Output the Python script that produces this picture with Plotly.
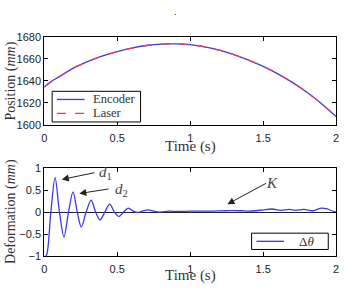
import plotly.graph_objects as go

# ---------------- data ----------------
t_pos = [0.0, 0.05, 0.1, 0.2, 0.3, 0.4, 0.5, 0.6, 0.7, 0.8, 0.9, 1.0,
         1.1, 1.2, 1.3, 1.4, 1.5, 1.6, 1.7, 1.8, 1.9, 2.0]
encoder = [1634.5, 1639.5, 1643.5, 1651.5, 1657.5, 1662.5, 1666.5, 1669.7,
           1672.0, 1673.3, 1673.5, 1672.7, 1670.8, 1667.8, 1663.7, 1658.7,
           1653.0, 1646.3, 1638.5, 1629.5, 1619.2, 1607.5]
laser = [1634.0, 1639.3, 1643.4, 1651.5, 1657.5, 1662.5, 1666.5, 1669.7,
         1672.0, 1673.3, 1673.5, 1672.7, 1670.8, 1667.8, 1663.7, 1658.7,
         1653.0, 1646.3, 1638.5, 1629.5, 1619.2, 1607.3]

t_def = [0.0, 0.015, 0.045, 0.074, 0.104, 0.135, 0.166, 0.197, 0.226, 0.254,
         0.287, 0.321, 0.352, 0.382, 0.415, 0.449, 0.48, 0.512, 0.543, 0.575,
         0.61, 0.64, 0.67, 0.71, 0.75, 0.79, 0.85, 0.9, 1.0, 1.1, 1.2, 1.25,
         1.3, 1.35, 1.4, 1.45, 1.5, 1.56, 1.62, 1.68, 1.72, 1.78, 1.84, 1.9,
         1.94, 1.97, 2.0]
deform = [-1.02, -0.98, 0.0, 0.78, 0.0, -0.565, 0.0, 0.456, 0.0, -0.34,
          0.0, 0.27, 0.0, -0.18, 0.0, 0.18, 0.0, -0.10, 0.0, 0.09,
          0.02, -0.01, 0.02, 0.05, 0.02, 0.0, 0.02, 0.015, 0.02, 0.02, 0.025, 0.03,
          0.035, 0.03, 0.02, 0.03, 0.05, 0.07, 0.04, 0.06, 0.04, 0.06, 0.03, 0.09,
          0.07, 0.03, 0.0]

x_ticks = [0, 0.5, 1, 1.5, 2]
x_ticklabels = ["0", "0.5", "1", "1.5", "2"]
pos_ticks = [1600, 1620, 1640, 1660, 1680]
def_ticks = [-1, -0.5, 0, 0.5, 1]
def_ticklabels = ["\u22121", "\u22120.5", "0", "0.5", "1"]

# annotations: (label, text_x, text_y, tail_x, tail_y, head_x, head_y)
arrows = [
    ("<i>d</i><sub>1</sub>", 0.36, 0.88, 0.355, 0.90, 0.12, 0.74),
    ("<i>d</i><sub>2</sub>", 0.47, 0.51, 0.45, 0.53, 0.24, 0.42),
    ("<i>K</i>", 1.56, 0.65, 1.53, 0.67, 1.255, 0.18),
]

W, H = 346, 289
serif = "Liberation Serif"
sans = "Liberation Sans"
blue = "#3a3ae6"
red = "#e0405a"
txt = "#333"

fig = go.Figure()
fig.add_trace(go.Scatter(x=t_pos, y=encoder, mode="lines", name="Encoder",
                         line=dict(color=blue, width=1.3, shape="spline"),
                         xaxis="x", yaxis="y", showlegend=False))
fig.add_trace(go.Scatter(x=t_pos, y=laser, mode="lines", name="Laser",
                         line=dict(color=red, width=1.3, dash="dash", shape="spline"),
                         xaxis="x", yaxis="y", showlegend=False))
fig.add_trace(go.Scatter(x=t_def, y=deform, mode="lines", name="\u0394\u03b8",
                         line=dict(color=blue, width=1.3, shape="spline", smoothing=0.9),
                         xaxis="x2", yaxis="y2", showlegend=False))

xd = [42 / W, 339 / W]
top_dom = [1 - 124 / H, 1 - 32 / H]
bot_dom = [1 - 261 / H, 1 - 169 / H]

axis_common = dict(showline=True, linecolor="black", linewidth=1, mirror="ticks",
                   ticks="inside", ticklen=4, tickcolor="black", showgrid=False,
                   tickfont=dict(family=sans, size=11, color="#222"))

fig.update_layout(
    width=W, height=H, margin=dict(l=0, r=0, t=0, b=0),
    paper_bgcolor="white", plot_bgcolor="white", showlegend=False,
    xaxis=dict(domain=xd, range=[0, 2], anchor="y", tickvals=x_ticks,
               ticktext=x_ticklabels, zeroline=False, ticklabelstandoff=3,
               **axis_common),
    yaxis=dict(domain=top_dom, range=[1600, 1680], anchor="x", tickvals=pos_ticks,
               zeroline=False, **axis_common),
    xaxis2=dict(domain=xd, range=[0, 2], anchor="y2", tickvals=x_ticks,
                ticktext=x_ticklabels, zeroline=False, ticklabelstandoff=3,
                **axis_common),
    yaxis2=dict(domain=bot_dom, range=[-1, 1], anchor="x2", tickvals=def_ticks,
                ticktext=def_ticklabels, zeroline=True, zerolinecolor="#222",
                zerolinewidth=1, **axis_common),
)

def px(x, y):
    return x / W, 1 - y / H

shapes = []
annos = []

# ---- legend boxes (drawn in paper space) ----
def legend_box(x0, y0, x1, y1):
    a, b = px(x0, y0)
    c, d = px(x1, y1)
    shapes.append(dict(type="rect", xref="paper", yref="paper", x0=a, y0=d, x1=c, y1=b,
                       line=dict(color="black", width=1), fillcolor="white", layer="above"))

def legend_entry(x0, x1, y, color, dash, label, tx, size):
    a, b = px(x0, y)
    c, _ = px(x1, y)
    shapes.append(dict(type="line", xref="paper", yref="paper", x0=a, y0=b, x1=c, y1=b,
                       line=dict(color=color, width=1.3, dash=dash), layer="above"))
    tpx, tpy = px(tx, y)
    annos.append(dict(text=label, x=tpx, y=tpy, xref="paper", yref="paper",
                      showarrow=False, xanchor="left", yanchor="middle",
                      font=dict(family=serif, size=size, color=txt)))

legend_box(50, 89, 140, 121)
legend_entry(55, 83, 97.5, blue, "solid", fig.data[0].name, 90, 12.5)
legend_entry(55, 83, 112, red, "dash", fig.data[1].name, 90, 12.5)
legend_box(253, 237, 331, 254)
legend_entry(258, 286, 245.5, blue, "solid", "\u0394<i>\u03b8</i>", 299, 13)

# axis titles
annos.append(dict(text="Time (s)", x=190.5 / W, y=1 - 146.5 / H, xref="paper", yref="paper",
                  showarrow=False, font=dict(family=serif, size=15, color=txt),
                  xanchor="center", yanchor="middle"))
annos.append(dict(text="Time (s)", x=190.5 / W, y=1 - 281.5 / H, xref="paper", yref="paper",
                  showarrow=False, font=dict(family=serif, size=15, color=txt),
                  xanchor="center", yanchor="middle"))
annos.append(dict(text="Position (<i>mm</i>)", x=8 / W, y=1 - 78 / H, xref="paper",
                  yref="paper", showarrow=False, textangle=-90,
                  font=dict(family=serif, size=14, color=txt),
                  xanchor="center", yanchor="middle"))
annos.append(dict(text="Deformation (<i>mm</i>)", x=8 / W, y=1 - 214 / H, xref="paper",
                  yref="paper", showarrow=False, textangle=-90,
                  font=dict(family=serif, size=14, color=txt),
                  xanchor="center", yanchor="middle"))
annos.append(dict(text=".", x=176 / W, y=1 - 6 / H, xref="paper", yref="paper",
                  showarrow=False, font=dict(family=serif, size=10, color=txt),
                  xanchor="center", yanchor="middle"))
for label, tx, ty, ax, ay, hx, hy in arrows:
    annos.append(dict(text="", x=hx, y=hy, ax=ax, ay=ay, xref="x2", yref="y2",
                      axref="x2", ayref="y2", showarrow=True, arrowhead=2,
                      arrowsize=1.4, arrowwidth=1, arrowcolor="#222",
                      standoff=0, startstandoff=0))
    annos.append(dict(text=label, x=tx, y=ty, xref="x2", yref="y2", showarrow=False,
                      font=dict(family=serif, size=15, color="#444"),
                      xanchor="left" if label != "<i>K</i>" else "center",
                      yanchor="middle"))

fig.update_layout(shapes=shapes, annotations=annos)
fig.write_html("out.html")
